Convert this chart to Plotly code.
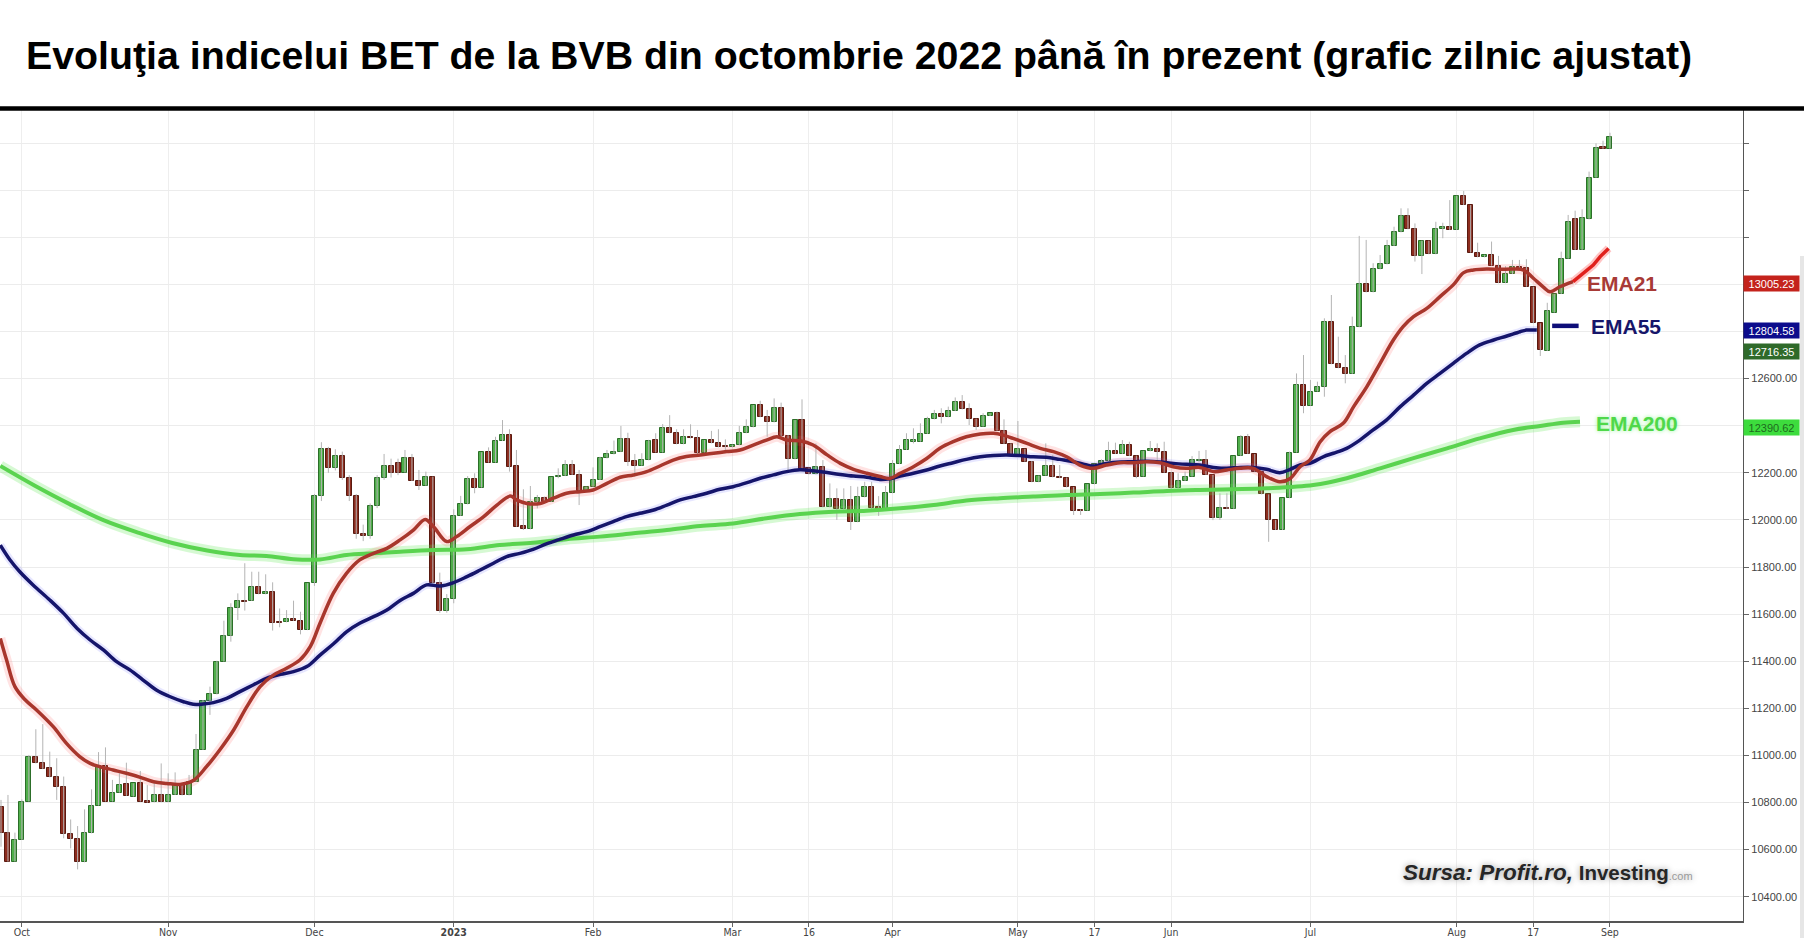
import plotly.graph_objects as go

# trading-day index (0 = 3 Oct 2022), candles start at index -3
first_idx = -3
opens = [
    10782, 10669, 10549,
    10641, 10804, 10995, 10966, 10945, 10907, 10864, 10666, 10645, 10546, 10669, 10787, 10955, 10804, 10842, 10877,
    10825, 10881, 10806, 10801, 10832,
    10801, 10832, 10877, 10830, 10888, 11023, 11232, 11259, 11398, 11508, 11624, 11657, 11656, 11716, 11684, 11692,
    11566, 11565, 11579, 11571, 11532,
    11731, 12100, 12300, 12220, 12270, 12180, 12100, 11940, 11930, 12060, 12180, 12230, 12240, 12201, 12261, 12165,
    12145, 12184, 11731, 11615,
    11663, 12017, 12066, 12172, 12137, 12287, 12243, 12335, 12361, 12229, 11974, 11960, 12077, 12092, 12077, 12181,
    12186, 12233, 12191, 12124,
    12141, 12169, 12261, 12278, 12288, 12342, 12250, 12230, 12253, 12339, 12286, 12389, 12368, 12321, 12353, 12349,
    12286, 12339, 12325, 12314,
    12311, 12317, 12368, 12393, 12488, 12436, 12414, 12474, 12356, 12257, 12424, 12219, 12193, 12226, 12053, 12087,
    12045, 12085, 11990, 12096, 12138, 12055, 12046,
    12113, 12237, 12297, 12332, 12332, 12365, 12427, 12450, 12436, 12462, 12501, 12469, 12427, 12396, 12441, 12453,
    12379, 12322,
    12271, 12300, 12247, 12160, 12188, 12230, 12182, 12177, 12138, 12043, 12039, 12151, 12237, 12249, 12293, 12280,
    12318, 12271, 12184, 12291, 12300, 12287,
    12200, 12134, 12165, 12184, 12250, 12254, 12191, 12007, 12052, 12046, 12271, 12351, 12280, 12205, 12108, 12000,
    11957, 12092, 12286, 12573,
    12485, 12545, 12563, 12842, 12661, 12644, 12620, 12818, 13002, 12966, 13064, 13085, 13163, 13221, 13292, 13234,
    13121, 13186, 13128, 13234, 13245,
    13231, 13377, 13337, 13135, 13115, 13126, 13080, 13005, 13044, 13075, 13070, 12990, 12835, 12717, 12880, 12959,
    13109, 13276, 13146, 13276, 13453, 13582,
    13576,
]
highs = [
    10811, 10832, 10672,
    10813, 11002, 11111, 11133, 11016, 10988, 10910, 10728, 10700, 10771, 10856, 11014, 11034, 10896, 10924, 10969,
    10881, 10934, 10874, 10886, 10966,
    10924, 10928, 10884, 10917, 11091, 11235, 11292, 11402, 11572, 11646, 11688, 11816, 11780, 11780, 11769, 11735,
    11624, 11617, 11657, 11610, 11731,
    12110, 12330, 12310, 12300, 12290, 12190, 12110, 11980, 12070, 12190, 12280, 12260, 12260, 12297, 12280, 12212,
    12205, 12184, 11776, 11685,
    12045, 12102, 12186, 12198, 12287, 12308, 12353, 12424, 12385, 12297, 12130, 12144, 12106, 12099, 12181, 12219,
    12254, 12254, 12212, 12141,
    12223, 12268, 12297, 12337, 12399, 12370, 12280, 12283, 12340, 12368, 12407, 12445, 12385, 12385, 12406, 12382,
    12339, 12378, 12385, 12342,
    12320, 12399, 12427, 12488, 12506, 12467, 12516, 12498, 12360, 12424, 12512, 12222, 12325, 12254, 12155, 12134,
    12134, 12144, 12141, 12162, 12162, 12101, 12144,
    12254, 12318, 12368, 12389, 12410, 12438, 12467, 12474, 12481, 12520, 12530, 12495, 12430, 12453, 12453, 12460,
    12427, 12325,
    12420, 12302, 12250, 12188, 12325, 12276, 12233, 12180, 12140, 12045, 12151, 12237, 12257, 12332, 12328, 12339,
    12332, 12273, 12293, 12335, 12325, 12332,
    12205, 12198, 12205, 12271, 12293, 12297, 12191, 12113, 12113, 12271, 12360, 12365, 12280, 12205, 12108, 12000,
    12092, 12290, 12622, 12700,
    12594, 12587, 12856, 12955, 12778, 12700, 12863, 13206, 13189, 13090, 13125, 13189, 13245, 13323, 13323, 13259,
    13186, 13186, 13266, 13262, 13358,
    13377, 13397, 13337, 13177, 13126, 13182, 13121, 13078, 13104, 13104, 13107, 12990, 12835, 12922, 12959, 13139,
    13295, 13313, 13319, 13479, 13599, 13610,
    13644,
]
lows = [
    10612, 10549, 10549,
    10641, 10804, 10966, 10942, 10907, 10811, 10648, 10605, 10516, 10546, 10669, 10787, 10804, 10804, 10842, 10828,
    10825, 10804, 10799, 10801, 10801,
    10801, 10832, 10830, 10830, 10888, 11023, 11172, 11259, 11398, 11483, 11575, 11615, 11656, 11684, 11684, 11530,
    11544, 11565, 11571, 11514, 11532,
    11720, 12080, 12200, 12210, 12170, 12080, 11920, 11910, 11920, 12050, 12170, 12180, 12190, 12201, 12165, 12127,
    12145, 11731, 11606, 11606,
    11646, 12017, 12066, 12113, 12137, 12243, 12243, 12335, 12205, 11971, 11957, 11960, 12049, 12070, 12077, 12177,
    12186, 12191, 12063, 12124,
    12141, 12169, 12261, 12278, 12288, 12229, 12198, 12230, 12253, 12286, 12286, 12368, 12321, 12321, 12346, 12269,
    12286, 12325, 12308, 12297,
    12308, 12317, 12368, 12393, 12436, 12353, 12414, 12356, 12212, 12257, 12215, 12193, 12193, 12053, 12053, 12000,
    12045, 11957, 11990, 12096, 12035, 12017, 12046,
    12113, 12237, 12297, 12325, 12332, 12365, 12427, 12410, 12436, 12462, 12469, 12403, 12382, 12396, 12441, 12379,
    12322, 12271,
    12271, 12247, 12160, 12160, 12188, 12181, 12177, 12138, 12021, 12021, 12039, 12151, 12237, 12249, 12280, 12280,
    12271, 12177, 12184, 12291, 12254, 12200,
    12130, 12134, 12165, 12184, 12245, 12191, 11999, 12000, 12046, 12046, 12271, 12280, 12205, 12108, 11907, 11957,
    11957, 12092, 12286, 12453,
    12485, 12545, 12523, 12661, 12644, 12580, 12620, 12818, 12966, 12966, 13064, 13085, 13163, 13221, 13234, 13097,
    13044, 13128, 13128, 13196, 13231,
    13231, 13337, 13135, 13115, 13115, 13080, 13005, 13005, 13044, 13065, 12990, 12835, 12696, 12717, 12880, 12959,
    13109, 13146, 13146, 13276, 13453, 13576,
    13576,
]
closes = [
    10669, 10549, 10641,
    10804, 10995, 10966, 10942, 10907, 10864, 10666, 10644, 10546, 10669, 10787, 10955, 10804, 10842, 10874, 10828,
    10881, 10804, 10799, 10832, 10801,
    10832, 10874, 10830, 10888, 11023, 11232, 11259, 11398, 11508, 11624, 11657, 11653, 11716, 11684, 11692, 11561,
    11561, 11578, 11571, 11532, 11731,
    12100, 12300, 12220, 12270, 12180, 12100, 11940, 11930, 12060, 12180, 12230, 12200, 12201, 12261, 12165, 12145,
    12184, 11731, 11615, 11663,
    12017, 12066, 12172, 12137, 12287, 12243, 12335, 12361, 12226, 11971, 11960, 12077, 12092, 12077, 12181, 12186,
    12233, 12191, 12124, 12141,
    12169, 12261, 12278, 12288, 12342, 12247, 12230, 12253, 12337, 12286, 12389, 12368, 12321, 12353, 12346, 12286,
    12339, 12325, 12308, 12308,
    12317, 12368, 12393, 12488, 12436, 12414, 12474, 12356, 12257, 12424, 12215, 12193, 12226, 12053, 12087, 12045,
    12085, 11990, 12096, 12138, 12052, 12046, 12113,
    12237, 12297, 12339, 12339, 12365, 12427, 12450, 12436, 12462, 12501, 12469, 12427, 12396, 12441, 12453, 12379,
    12322, 12271,
    12300, 12247, 12160, 12188, 12230, 12181, 12177, 12138, 12039, 12039, 12151, 12237, 12249, 12293, 12280, 12318,
    12271, 12184, 12293, 12300, 12287, 12200,
    12134, 12165, 12184, 12254, 12254, 12191, 12007, 12049, 12046, 12271, 12351, 12280, 12205, 12108, 12000, 11957,
    12092, 12286, 12573, 12485,
    12545, 12563, 12842, 12661, 12644, 12620, 12818, 13002, 12966, 13064, 13085, 13163, 13221, 13292, 13234, 13121,
    13186, 13128, 13234, 13245, 13231,
    13377, 13337, 13135, 13115, 13126, 13080, 13005, 13044, 13075, 13065, 12990, 12835, 12722, 12889, 12959, 13109,
    13266, 13146, 13283, 13453, 13581, 13576,
    13625,
]

# moving averages (trading-day index, value)
ema21_x = [-3.1, -2.2, -1.0, 0.5, 2.1, 4.5, 6.4, 8.3, 9.8, 11.2, 13.1, 15.0, 17.0, 18.9, 20.8, 22.7, 24.6, 26.5,
           28.4, 30.4, 32.3, 34.2, 36.1, 38.0, 39.9, 41.4, 42.8, 44.7, 46.6, 48.5, 50.5, 52.4, 54.3, 56.2, 57.9,
           59.1, 61.0, 62.4, 64.3, 66.3, 68.2, 70.1, 71.0, 72.5, 74.4, 76.3, 78.2, 80.1, 82.0, 84.0, 85.9, 87.8,
           89.7, 91.6, 93.5, 95.4, 97.4, 99.3, 101.2, 103.1, 105.0, 106.9, 108.4, 109.8, 111.7, 113.6, 115.6,
           117.5, 119.4, 121.3, 123.2, 124.6, 126.1, 128.0, 129.9, 131.8, 133.7, 135.6, 137.6, 139.5, 140.9,
           142.3, 144.3, 146.2, 148.1, 150.0, 151.9, 153.8, 155.7, 157.7, 159.6, 161.5, 163.4, 165.3, 167.2,
           169.1, 171.1, 173.0, 174.9, 176.8, 178.7, 180.6, 182.1, 183.5, 184.9, 186.4, 187.8, 189.7, 191.2,
           193.1, 195.0, 196.9, 198.3, 199.8, 201.7, 203.6, 205.5, 207.0, 208.4, 210.3, 212.2, 214.1, 215.6,
           217.0, 218.4, 219.4, 220.8, 222.7]
ema21_y = [11497, 11405, 11292, 11235, 11193, 11122, 11051, 10995, 10966, 10952, 10938, 10924, 10907, 10888, 10881,
           10877, 10893, 10952, 11023, 11108, 11207, 11292, 11341, 11370, 11405, 11462, 11561, 11688, 11773, 11830,
           11858, 11879, 11915, 11957, 12002, 11971, 11908, 11929, 11971, 12014, 12063, 12101, 12085, 12070, 12070,
           12092, 12113, 12120, 12127, 12155, 12181, 12191, 12205, 12229, 12254, 12269, 12276, 12283, 12290, 12297,
           12318, 12339, 12353, 12339, 12336, 12318, 12276, 12240, 12215, 12198, 12184, 12176, 12198, 12226, 12261,
           12304, 12332, 12353, 12365, 12368, 12360, 12346, 12325, 12304, 12290, 12268, 12233, 12219, 12233, 12243,
           12243, 12247, 12243, 12226, 12219, 12223, 12205, 12212, 12219, 12219, 12184, 12162, 12176, 12226, 12254,
           12332, 12375, 12410, 12481, 12566, 12665, 12764, 12821, 12863, 12898, 12948, 12998, 13050, 13061, 13065,
           13064, 13065, 13061, 13026, 12990, 12969, 12990, 13012]
ema21_ext_x = [222.7, 224.2, 225.6, 226.6, 227.8]
ema21_ext_y = [13012, 13047, 13082, 13118, 13153]

ema55_x = [-3.1, -1.7, -0.3, 1.6, 4.0, 6.0, 7.9, 9.8, 11.7, 13.6, 15.5, 17.4, 19.3, 21.3, 23.2, 24.6, 26.0, 27.5,
           29.4, 31.3, 33.2, 35.1, 37.1, 39.0, 40.9, 42.8, 44.7, 46.6, 48.5, 50.5, 52.4, 54.3, 56.2, 58.1, 60.0,
           62.0, 63.9, 65.8, 67.7, 69.6, 71.5, 73.4, 75.3, 77.3, 79.2, 81.1, 83.0, 84.9, 86.8, 88.7, 90.7, 92.6,
           94.5, 96.4, 98.3, 100.2, 102.1, 104.1, 106.0, 107.9, 109.8, 111.7, 113.6, 115.6, 117.5, 119.4, 121.3,
           123.2, 124.6, 126.1, 128.0, 129.9, 131.8, 133.7, 135.6, 137.6, 139.5, 141.4, 143.3, 145.2, 147.1,
           149.0, 151.0, 152.9, 153.8, 155.7, 157.7, 159.6, 161.5, 163.4, 165.3, 167.2, 169.1, 171.1, 173.0,
           174.9, 176.8, 178.7, 180.6, 182.1, 183.5, 184.9, 186.9, 188.3, 190.2, 192.1, 194.0, 195.9, 197.9,
           199.8, 201.7, 203.6, 205.5, 207.4, 209.3, 211.3, 213.2, 215.1, 216.0, 217.5]
ema55_y = [11893, 11830, 11780, 11724, 11660, 11603, 11540, 11490, 11448, 11398, 11363, 11320, 11278, 11249, 11228,
           11217, 11218, 11224, 11242, 11271, 11299, 11327, 11344, 11356, 11377, 11426, 11473, 11525, 11561, 11589,
           11617, 11658, 11688, 11724, 11719, 11734, 11759, 11787, 11816, 11844, 11858, 11875, 11898, 11918, 11936,
           11950, 11971, 11993, 12014, 12028, 12042, 12063, 12085, 12099, 12113, 12130, 12141, 12158, 12177, 12191,
           12205, 12213, 12209, 12201, 12193, 12186, 12181, 12172, 12175, 12186, 12198, 12212, 12229, 12243, 12257,
           12268, 12274, 12276, 12273, 12268, 12266, 12257, 12247, 12233, 12229, 12240, 12246, 12247, 12249, 12246,
           12240, 12236, 12233, 12223, 12219, 12223, 12223, 12215, 12200, 12215, 12233, 12240, 12269, 12283, 12304,
           12339, 12382, 12424, 12481, 12530, 12580, 12622, 12665, 12707, 12743, 12764, 12781, 12799, 12806, 12806]
ema55_key_x = [219.7, 223.5]
ema55_key_y = [12824, 12824]

ema200_x = [-3.1, 1.8, 6.8, 11.7, 16.7, 21.6, 26.6, 31.3, 35.1, 39.0, 42.8, 46.6, 50.5, 54.3, 59.1, 63.9, 68.6,
            73.4, 78.2, 83.0, 87.8, 92.6, 97.4, 102.1, 106.9, 111.7, 116.5, 121.3, 126.1, 130.9, 135.6, 140.4,
            145.2, 150.0, 154.8, 159.6, 164.4, 169.1, 173.9, 178.7, 185.4, 190.2, 195.0, 199.8, 204.6, 209.3,
            214.1, 218.0, 221.3, 223.7]
ema200_y = [12229, 12146, 12068, 11999, 11946, 11902, 11870, 11851, 11847, 11833, 11832, 11851, 11858, 11865,
            11872, 11875, 11893, 11903, 11918, 11929, 11943, 11957, 11974, 11985, 12007, 12025, 12035, 12039,
            12049, 12063, 12082, 12092, 12099, 12106, 12110, 12116, 12123, 12127, 12130, 12134, 12148, 12177,
            12219, 12262, 12304, 12346, 12382, 12399, 12413, 12417]

x_tick_idx = [0, 21, 42, 62, 82, 102, 113, 125, 143, 154, 165, 185, 206, 217, 228]
x_tick_text = ["Oct", "Nov", "Dec", "<b>2023</b>", "Feb", "Mar", "16", "Apr", "May", "17", "Jun", "Jul",
               "Aug", "17", "Sep"]
y_tick_vals = list(range(10400, 13601, 200))
y_tick_text = [f"{v:.2f}" if v <= 12600 else "" for v in y_tick_vals]

last_labels = ["13005.23", "12804.58", "12716.35", "12390.62"]
last_values = [13005.23, 12804.58, 12716.35, 12390.62]
last_bg = ["#c4231c", "#0c0c8c", "#2f6a2a", "#3ddc3d"]
last_fg = ["#ffffff", "#ffffff", "#ffffff", "#1d6a1d"]

UP_FILL, UP_EDGE = "#4fae4a", "#2c6e29"
DN_FILL, DN_EDGE = "#8c2c1e", "#5a1a10"

xs = list(range(first_idx, first_idx + len(opens)))
wick_x, wick_y = [], []
for i, lo, hi in zip(xs, lows, highs):
    wick_x += [i, i, None]
    wick_y += [lo, hi, None]
up = [c >= o for o, c in zip(opens, closes)]
body_base = [min(o, c) for o, c in zip(opens, closes)]
body_h = [max(abs(c - o), 3) for o, c in zip(opens, closes)]

fig = go.Figure()

# glow under the averages
fig.add_trace(go.Scatter(x=ema200_x, y=ema200_y, mode="lines", line=dict(color="rgba(90,230,80,0.25)", width=11, shape="spline")))
fig.add_trace(go.Scatter(x=ema21_x, y=ema21_y, mode="lines", line=dict(color="rgba(255,80,80,0.16)", width=10, shape="spline")))
fig.add_trace(go.Scatter(x=ema55_x, y=ema55_y, mode="lines", line=dict(color="rgba(60,60,255,0.12)", width=8, shape="spline")))

fig.add_trace(go.Scatter(x=wick_x, y=wick_y, mode="lines", line=dict(color="#b4b4b4", width=1)))
fig.add_trace(go.Bar(
    x=xs, y=body_h, base=body_base, width=0.72,
    marker=dict(color=[UP_FILL if u else DN_FILL for u in up],
                line=dict(color=[UP_EDGE if u else DN_EDGE for u in up], width=1)),
))

fig.add_trace(go.Scatter(x=ema200_x, y=ema200_y, mode="lines", line=dict(color="#5ad34f", width=4, shape="spline")))
fig.add_trace(go.Scatter(x=ema55_x, y=ema55_y, mode="lines", line=dict(color="#15156b", width=3.5, shape="spline")))
fig.add_trace(go.Scatter(x=ema21_x, y=ema21_y, mode="lines", line=dict(color="#a8362c", width=3.5, shape="spline")))
fig.add_trace(go.Scatter(x=ema21_ext_x, y=ema21_ext_y, mode="lines", line=dict(color="rgba(255,60,60,0.3)", width=8)))
fig.add_trace(go.Scatter(x=ema21_ext_x, y=ema21_ext_y, mode="lines", line=dict(color="#e0201c", width=3.5)))
fig.add_trace(go.Scatter(x=ema55_key_x, y=ema55_key_y, mode="lines", line=dict(color="#0e0e78", width=4.5)))

annotations = [
    dict(text="<b>Evoluţia indicelui BET de la BVB din octombrie 2022 până în prezent (grafic zilnic ajustat)</b>",
         xref="paper", yref="paper", x=24 / 1743, y=(921 - 55) / 811, xanchor="left", yanchor="middle",
         showarrow=False, font=dict(family="Liberation Sans, Arial", size=39.3, color="#000000")),
    dict(text="<b>EMA21</b>", x=229.7, y=13005, xanchor="center", yanchor="middle", showarrow=False,
         font=dict(family="Liberation Sans, Arial", size=21, color="#a83a36")),
    dict(text="<b>EMA55</b>", x=230.3, y=12823, xanchor="center", yanchor="middle", showarrow=False,
         font=dict(family="Liberation Sans, Arial", size=21, color="#16166a")),
    dict(text="<b>EMA200</b>", x=231.9, y=12411, xanchor="center", yanchor="middle", showarrow=False,
         font=dict(family="Liberation Sans, Arial", size=21, color="#4fd84a", shadow="0px 0px 4px #9af59a")),
    dict(text="<b><i><span style='font-size:22.5px'>Sursa: Profit.ro,</span></i></b> <b>Investing</b>"
              "<span style='font-size:11px;color:#9a9a9a'>.com</span>",
         xref="paper", yref="paper", x=1401 / 1743, y=(921 - 872) / 811, xanchor="left", yanchor="middle",
         showarrow=False,
         font=dict(family="Liberation Sans, Arial", size=20.5, color="#262626", shadow="0px 0px 6px #9a9a9a")),
]
for lab, val, bg, fg in zip(last_labels, last_values, last_bg, last_fg):
    annotations.append(dict(text=lab, xref="paper", yref="y", x=1.0, y=val, xanchor="left", yanchor="middle",
                            showarrow=False, bgcolor=bg, width=53, height=13, borderpad=1, align="center",
                            font=dict(family="Liberation Sans, Arial", size=11, color=fg)))

fig.update_layout(
    width=1804, height=938,
    margin=dict(l=0, r=61, t=110, b=17, autoexpand=False),
    paper_bgcolor="#ffffff", plot_bgcolor="#ffffff",
    showlegend=False,
    bargap=0,
    annotations=annotations,
    shapes=[
        dict(type="line", xref="paper", yref="paper", x0=0, x1=1804 / 1743, y0=(921 - 108.5) / 811,
             y1=(921 - 108.5) / 811, line=dict(color="#000000", width=4.5)),
        dict(type="rect", xref="paper", yref="paper", x0=1800 / 1743, x1=1804 / 1743, y0=-0.03, y1=0.82,
             fillcolor="#e6e6e6", line=dict(width=0)),
    ],
)
fig.update_xaxes(
    range=[-3.144, 247.1], tickvals=x_tick_idx, ticktext=x_tick_text,
    showgrid=True, gridcolor="#eeeeee", gridwidth=1, zeroline=False,
    showline=True, linecolor="#555555", linewidth=1.5,
    ticks="outside", ticklen=4, tickcolor="#666666", ticklabelstandoff=-3,
    tickfont=dict(family="DejaVu Sans Condensed, Liberation Sans, Arial", size=10.5, color="#444444"),
)
fig.update_yaxes(
    range=[10296.8, 13740.6], side="right", tickvals=y_tick_vals, ticktext=y_tick_text,
    showgrid=True, gridcolor="#ececec", gridwidth=1, zeroline=False,
    showline=True, linecolor="#555555", linewidth=1.2,
    ticks="outside", ticklen=5, tickcolor="#666666",
    tickfont=dict(family="Liberation Sans, Arial", size=11, color="#444444"),
)

fig.write_html("out.html", config={"displayModeBar": False},
               post_script="document.body.style.margin='0';")
